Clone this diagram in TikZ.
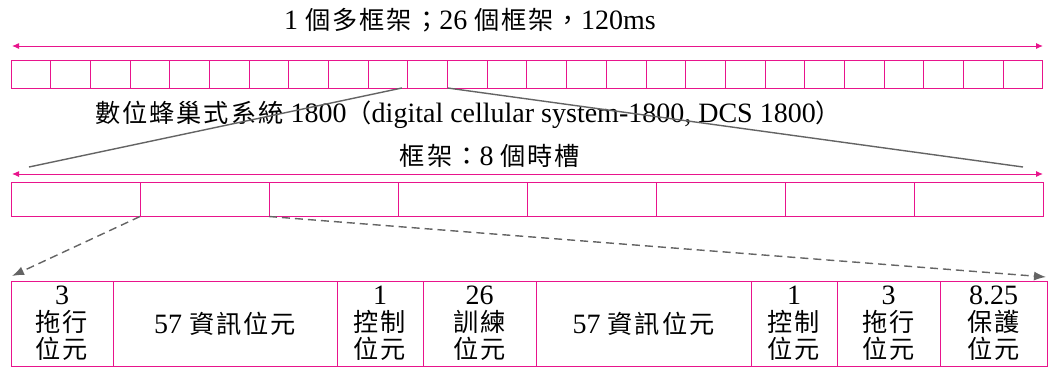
\documentclass[tikz,border=0pt]{standalone}
\usepackage{fontspec}
\setmainfont{Liberation Serif}
\newfontfamily\cjk{Noto Sans CJK TC}[Scale=0.9, LetterSpace=8]
\usetikzlibrary{arrows.meta}
\definecolor{mag}{RGB}{232,20,140}
\definecolor{gr}{RGB}{100,100,100}
\begin{document}
\begin{tikzpicture}[x=1pt,y=-1pt,
  cell/.style={draw=mag, line width=1pt, anchor=north west, inner sep=0pt, outer sep=0pt},
  fcell/.style={draw=mag, line width=1pt, anchor=north west, inner sep=0pt, outer sep=0pt, minimum width=129pt, minimum height=34.5pt},
  bcell/.style={draw=mag, line width=1pt, anchor=north west, inner sep=0pt, outer sep=0pt, minimum height=85pt, align=center, font=\fontsize{28}{27}\selectfont},
  lbl/.style={inner sep=0pt, font=\fontsize{28}{27}\selectfont},
  span/.style={draw=mag, line width=1pt, {Latex[length=7pt,width=6pt]}-{Latex[length=7pt,width=6pt]}},
  zoomline/.style={draw=gr, line width=1.4pt},
  dashline/.style={draw=gr, line width=1.4pt, dash pattern=on 8pt off 5pt, -{Latex[length=12pt,width=9pt]}}
]
\useasboundingbox (0,0) rectangle (1048,367);

% top multiframe strip
\foreach \i in {0,...,25}
  \node[cell, minimum width=39.69pt, minimum height=28pt] (t\i) at ({11+\i*39.69},60) {};
\coordinate (a1) at (12,46);
\coordinate (a2) at (1043,46);
\draw[span] (a1) -- (a2);
\node[lbl] (ttl) at (470,20) {1 {\cjk 個多框架；}26 {\cjk 個框架，}120ms};

% title
\node[lbl] (sys) at (468,115) {{\cjk 數位蜂巢式系統} 1800{\cjk （}digital cellular system-1800, DCS 1800{\cjk ）}};

% zoom lines
\coordinate (z1) at (29,167);
\coordinate (z2) at (1023,167);
\draw[zoomline] ([xshift=-6pt]t10.south west) -- (z1);
\draw[zoomline] (t10.south east) -- (z2);

% frame
\node[lbl] (frl) at (490,156) {{\cjk 框架：}8 {\cjk 個時槽}};
\coordinate (f1a) at (12,174);
\coordinate (f1b) at (1043,174);
\draw[span] (f1a) -- (f1b);
\foreach \i in {0,...,7}
  \node[fcell] (f\i) at ({11+\i*129},182) {};

% dashed expansion arrows
\coordinate (d1) at (12,276);
\coordinate (d2) at (1046,277);
\draw[dashline] (f1.south west) -- (d1);
\draw[dashline] (f2.south west) -- (d2);

% bottom burst
\node[bcell, minimum width=102pt] (b1) at (11,281) {3\\{\cjk 拖行}\\{\cjk 位元}};
\node[bcell, minimum width=224pt] (b2) at (113,281) {57 {\cjk 資訊位元}};
\node[bcell, minimum width=86pt] (b3) at (337,281) {1\\{\cjk 控制}\\{\cjk 位元}};
\node[bcell, minimum width=113pt] (b4) at (423,281) {26\\{\cjk 訓練}\\{\cjk 位元}};
\node[bcell, minimum width=215pt] (b5) at (536,281) {57 {\cjk 資訊位元}};
\node[bcell, minimum width=86pt] (b6) at (751,281) {1\\{\cjk 控制}\\{\cjk 位元}};
\node[bcell, minimum width=103pt] (b7) at (837,281) {3\\{\cjk 拖行}\\{\cjk 位元}};
\node[bcell, minimum width=107pt] (b8) at (940,281) {8.25\\{\cjk 保護}\\{\cjk 位元}};
\end{tikzpicture}
\end{document}
